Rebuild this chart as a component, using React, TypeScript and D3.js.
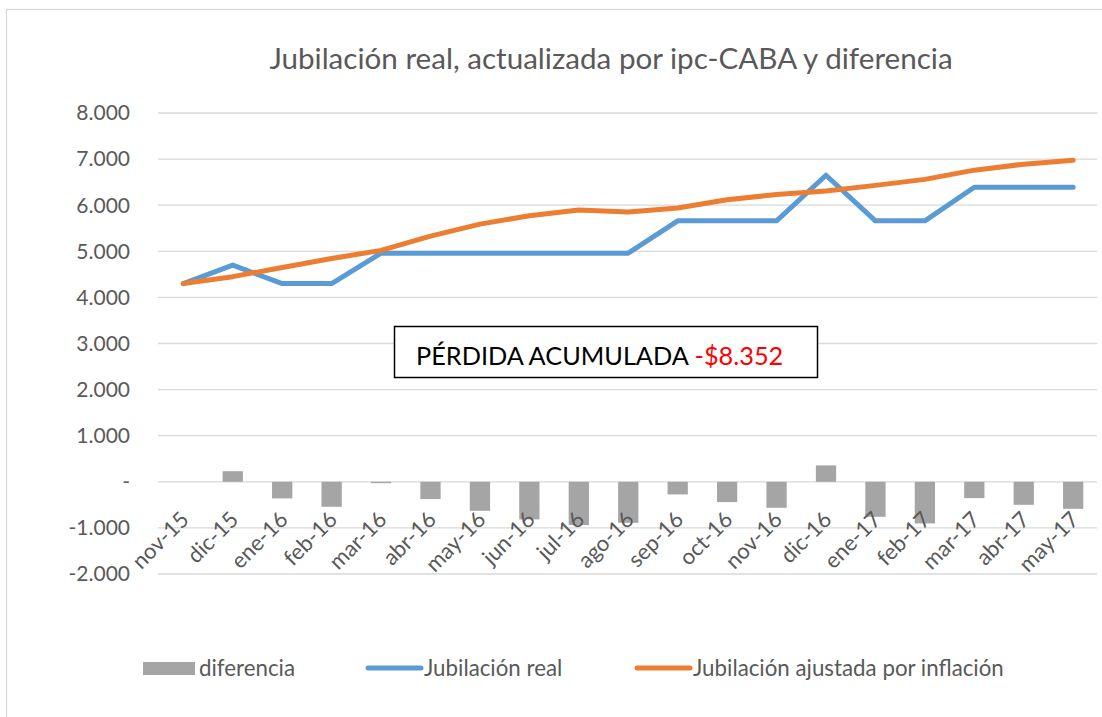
import React from "react";
import * as d3 from "d3";

const categories = ["nov-15","dic-15","ene-16","feb-16","mar-16","abr-16","may-16","jun-16","jul-16","ago-16","sep-16","oct-16","nov-16","dic-16","ene-17","feb-17","mar-17","abr-17","may-17"];
const jubilacionReal = [4300,4700,4300,4300,4960,4960,4960,4960,4960,4960,5660,5660,5660,6650,5660,5660,6390,6390,6390];
const jubilacionAjustada = [4300,4450,4650,4845,5020,5330,5590,5770,5895,5850,5940,6120,6230,6310,6430,6560,6760,6890,6975];
const diferencia = [0,230,-360,-542,-30,-375,-629,-816,-940,-890,-274,-440,-564,356,-759,-903,-354,-499,-586];
const yTicks = [-2000,-1000,0,1000,2000,3000,4000,5000,6000,7000,8000];
const title = "Jubilación real, actualizada por ipc-CABA y diferencia";
const legendLabels = ["diferencia","Jubilación real","Jubilación ajustada por inflación"];

const FONT = "Lato, 'Open Sans', sans-serif";
const TXT = "#595959";

export default function App() {
  const W = 1102, H = 717;
  const x = d3.scalePoint<string>().domain(categories).range([158.6, 1097.9]).padding(0.5);
  const y = d3.scaleLinear().domain([-2000, 8000]).range([574, 113]);
  const barW = x.step() * 0.41;
  const fmt = (v: number) => v === 0 ? "-" : d3.format(",")(v).replace(/,/g, ".").replace("\u2212", "-");
  const line = d3.line<number>().x((_, i) => x(categories[i])!).y(d => y(d));

  return (
    <svg width={W} height={H} style={{ position: "absolute", left: 0, top: 0, background: "#fff" }} fontFamily={FONT}>
      <rect x={6.5} y={9.5} width={1200} height={900} fill="#fff" stroke="#D9D9D9" strokeWidth={1.3} />
      <text x={611} y={69} textAnchor="middle" fontSize={29.6} fill={TXT}>{title}</text>
      {yTicks.map(t => (
        <g key={t}>
          <line x1={158} x2={1097} y1={y(t)} y2={y(t)} stroke="#D9D9D9" strokeWidth={1.3} />
          <text x={130} y={y(t)} dy="0.35em" textAnchor="end" fontSize={21} fill={TXT}>{fmt(t)}</text>
        </g>
      ))}
      {diferencia.map((d, i) => (
        <rect key={i} x={x(categories[i])! - barW / 2} y={Math.min(y(d), y(0))} width={barW}
          height={Math.abs(y(d) - y(0))} fill="#A5A5A5" />
      ))}
      <path d={line(jubilacionReal)!} fill="none" stroke="#5B9BD5" strokeWidth={5} strokeLinejoin="round" strokeLinecap="round" />
      <path d={line(jubilacionAjustada)!} fill="none" stroke="#ED7D31" strokeWidth={5} strokeLinejoin="round" strokeLinecap="round" />
      {categories.map(c => (
        <text key={c} transform={`translate(${x(c)! + 7},${521}) rotate(-45)`} textAnchor="end" fontSize={22} fill={TXT}>{c}</text>
      ))}
      <rect x={394.5} y={326.5} width={423} height={51} fill="#fff" stroke="#000" strokeWidth={1.5} />
      <text x={416} y={365} fontSize={25.3} fill="#000">PÉRDIDA ACUMULADA <tspan fill="#FF0000">-$8.352</tspan></text>
      <g>
        <rect x={143} y={662} width={52} height={13} fill="#A5A5A5" />
        <text x={199} y={668} dy="0.35em" fontSize={22.3} fill={TXT}>{legendLabels[0]}</text>
        <line x1={368} x2={421} y1={668} y2={668} stroke="#5B9BD5" strokeWidth={5} strokeLinecap="round" />
        <text x={424} y={668} dy="0.35em" fontSize={22.3} fill={TXT}>{legendLabels[1]}</text>
        <line x1={637} x2={690} y1={668} y2={668} stroke="#ED7D31" strokeWidth={5} strokeLinecap="round" />
        <text x={693} y={668} dy="0.35em" fontSize={22.3} fill={TXT}>{legendLabels[2]}</text>
      </g>
    </svg>
  );
}
